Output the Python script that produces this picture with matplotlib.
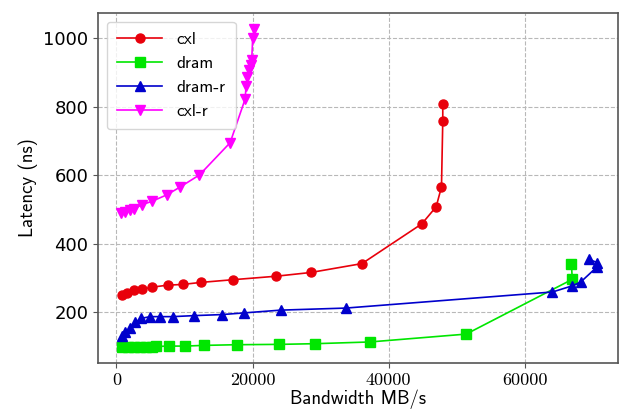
import numpy as np
import matplotlib.pyplot as plt

# bandwidth (MB/s) and latency (ns)
cxl_bw = [830, 1560, 2540, 3760, 5220, 7520, 9720, 12400, 17190, 23440, 28570,
          36090, 44880, 46990, 47770, 47960, 47960]
cxl_lat = [249, 257, 265, 267, 273, 279, 281, 287, 295, 305, 316,
           342, 458, 508, 566, 759, 807]

dram_bw = [830, 1760, 2640, 3520, 4400, 5270, 5860, 7770, 10110, 12800, 17680,
           23930, 29200, 37220, 51400, 67000, 66860]
dram_lat = [97, 97, 98, 98, 99, 99, 100, 101, 101, 103, 105,
            106, 108, 113, 136, 296, 342]

dramr_bw = [830, 1320, 2050, 2780, 3610, 4980, 6450, 8250, 11430, 15480, 18800,
            24130, 33700, 64080, 67000, 68230, 70670, 70670, 69450]
dramr_lat = [129, 141, 155, 170, 182, 187, 187, 187, 190, 193, 198,
             206, 212, 259, 277, 288, 333, 345, 354]

cxlr_bw = [690, 1320, 1950, 2540, 3760, 5220, 7420, 9380, 12200, 16700,
           18900, 19050, 19240, 19540, 19730, 19880, 20020, 20270]
cxlr_lat = [490, 493, 498, 502, 514, 524, 543, 566, 601, 695,
            822, 860, 887, 907, 921, 936, 1002, 1028]

fig = plt.figure(figsize=(6.21, 4.19), dpi=100)
ax = fig.add_axes([0.158, 0.134, 0.837, 0.835])

ax.plot(cxl_bw, cxl_lat, color='#e8000b', marker='o', markersize=6.5, lw=1.2, label='cxl', zorder=3)
ax.plot(dram_bw, dram_lat, color='#00e600', marker='s', markersize=6.5, lw=1.2, label='dram', zorder=3)
ax.plot(dramr_bw, dramr_lat, color='#0000cc', marker='^', markersize=7, lw=1.2, label='dram-r', zorder=3)
ax.plot(cxlr_bw, cxlr_lat, color='#ff00ff', marker='v', markersize=7, lw=1.2, label='cxl-r', zorder=3)

ax.set_xlim(-2700, 73700)
ax.set_ylim(52, 1074)
ax.set_xticks([0, 20000, 40000, 60000])
ax.set_yticks([200, 400, 600, 800, 1000])
ax.grid(True, linestyle='--', color='#b8b8b8', lw=0.8)
ax.set_axisbelow(True)

ax.tick_params(axis='x', labelfontfamily='cmr10', labelsize=13)
ax.tick_params(axis='y', labelfontfamily='DejaVu Sans', labelsize=13)

ax.set_xlabel('Bandwidth MB/s', fontfamily='cmss10', fontsize=13.5, labelpad=1)
ax.set_ylabel('Latency (ns)', fontfamily='cmss10', fontsize=13.5)

for s in ax.spines.values():
    s.set_color('#555555')
    s.set_linewidth(1.2)
ax.tick_params(color='#555555')

leg = ax.legend(loc='upper left', prop={'family': 'cmss10', 'size': 12.5},
                handlelength=2.6, borderpad=0.6, labelspacing=0.5, fancybox=True)
leg.get_frame().set_edgecolor('#cccccc')

fig.savefig('out.png', dpi=100)
